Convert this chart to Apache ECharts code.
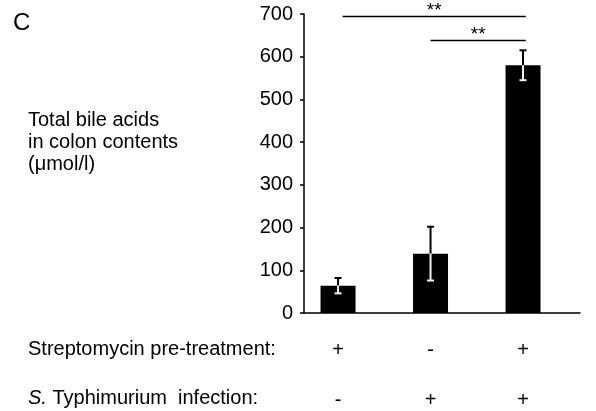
<!DOCTYPE html>
<html>
<head>
<meta charset="utf-8">
<script src="https://cdn.jsdelivr.net/npm/echarts@6/dist/echarts.min.js"></script>
<style>
  html, body { margin: 0; padding: 0; background: #fff; }
  #chart { width: 596px; height: 411px; }
</style>
</head>
<body>
<div id="chart"></div>
<script>
// groups are placed at x = 1, 2, 3 on a hidden value axis
const groups = [1, 2, 3];
const means = [64, 139, 580];
const errs = [18, 63, 35];
const strepRow = ['+', '-', '+'];
const infectRow = ['-', '+', '+'];
// significance brackets
const sigFrom = [1.05, 2];
const sigTo = [3.03, 3.03];
const sigLevel = [694, 638];
const sigText = ['**', '**'];

const FONT = '"Liberation Sans", Arial, sans-serif';

let myChart = echarts.init(document.getElementById('chart'));

const barData = groups.map((g, i) => [g, means[i]]);
const errData = groups.map((g, i) => [g, means[i], errs[i]]);
const sigData = sigFrom.map((f, i) => [f, sigTo[i], sigLevel[i]]);
const rowData = groups.map(g => [g, 0]);

function renderErr(params, api) {
  const x = api.value(0), m = api.value(1), e = api.value(2);
  const top = api.coord([x, m + e]);
  const mid = api.coord([x, m]);
  const bot = api.coord([x, m - e]);
  const c = 3.5;
  return {
    type: 'group',
    children: [
      {type: 'line', shape: {x1: top[0], y1: top[1], x2: mid[0], y2: mid[1]}, style: {stroke: '#000', lineWidth: 2}},
      {type: 'line', shape: {x1: top[0] - c, y1: top[1], x2: top[0] + c, y2: top[1]}, style: {stroke: '#000', lineWidth: 2}},
      {type: 'line', shape: {x1: mid[0], y1: mid[1], x2: bot[0], y2: bot[1]}, style: {stroke: '#f2f2f2', lineWidth: 2}},
      {type: 'line', shape: {x1: bot[0] - c, y1: bot[1], x2: bot[0] + c, y2: bot[1]}, style: {stroke: '#f2f2f2', lineWidth: 2}}
    ]
  };
}

function renderSig(params, api) {
  const a = api.coord([api.value(0), api.value(2)]);
  const b = api.coord([api.value(1), api.value(2)]);
  return {
    type: 'group',
    children: [
      {type: 'line', shape: {x1: a[0], y1: a[1], x2: b[0], y2: b[1]}, style: {stroke: '#000', lineWidth: 1.5}},
      {type: 'text', x: (a[0] + b[0]) / 2, y: a[1] + 4,
        style: {text: sigText[params.dataIndex], font: '19px ' + FONT, fill: '#000', align: 'center', verticalAlign: 'bottom'}}
    ]
  };
}

function renderRows(params, api) {
  const p = api.coord([api.value(0), 0]);
  const i = params.dataIndex;
  return {
    type: 'group',
    children: [
      {type: 'text', x: p[0], y: 350, style: {text: strepRow[i], font: '20px ' + FONT, fill: '#000', align: 'center', verticalAlign: 'middle'}},
      {type: 'text', x: p[0], y: 400, style: {text: infectRow[i], font: '20px ' + FONT, fill: '#000', align: 'center', verticalAlign: 'middle'}}
    ]
  };
}

myChart.setOption({
  animation: false,
  grid: {left: 304, right: 16, top: 14, bottom: 98},
  xAxis: {
    type: 'value', min: 0.632, max: 3.616,
    axisLine: {show: true, lineStyle: {color: '#000', width: 1.5}},
    axisTick: {show: false}, axisLabel: {show: false}, splitLine: {show: false}
  },
  yAxis: {
    type: 'value', min: 0, max: 700, interval: 100,
    axisLine: {show: true, lineStyle: {color: '#000', width: 1.5}},
    axisTick: {show: true, length: 4, lineStyle: {color: '#000', width: 1.5}},
    axisLabel: {color: '#000', fontSize: 20, fontFamily: FONT, margin: 11},
    splitLine: {show: false}
  },
  graphic: [
    {type: 'text', left: 13, top: 11, style: {text: 'C', font: '24px ' + FONT, fill: '#000'}},
    {type: 'text', left: 28, top: 110,
      style: {text: 'Total bile acids\nin colon contents\n(\u03bcmol/l)', font: '20px ' + FONT, lineHeight: 21.7, fill: '#000'}},
    {type: 'text', left: 28, top: 339, style: {text: 'Streptomycin pre-treatment:', font: '20px ' + FONT, fill: '#000'}},
    {type: 'text', left: 28, top: 388,
      style: {text: '{i|S.} Typhimurium  infection:', font: '20px ' + FONT, fill: '#000',
        rich: {i: {fontStyle: 'italic', fontSize: 20, fontFamily: FONT}}}}
  ],
  series: [
    {type: 'bar', data: barData, barWidth: 35, itemStyle: {color: '#000'}},
    {type: 'custom', data: errData, renderItem: renderErr, z: 5},
    {type: 'custom', data: sigData, renderItem: renderSig, z: 5, clip: false},
    {type: 'custom', data: rowData, renderItem: renderRows, z: 5, clip: false}
  ]
});
</script>
</body>
</html>
